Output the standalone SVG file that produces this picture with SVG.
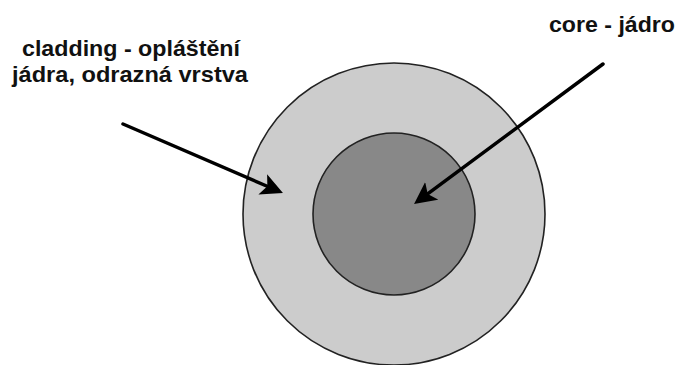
<svg xmlns="http://www.w3.org/2000/svg" width="682" height="365" viewBox="0 0 682 365">
<style>
.lbl{font-family:"Liberation Sans",Arial,sans-serif;font-weight:bold;font-size:22px;fill:#111;text-anchor:middle}
.conn{stroke:#000;stroke-width:3.5;fill:none;stroke-linecap:round}
</style>
<defs>
<marker id="ah" markerUnits="userSpaceOnUse" markerWidth="24" markerHeight="24" refX="8" refY="11" orient="auto">
<path d="M0,0 L22,11 L0,22 L5,11 Z" fill="#000"/>
</marker>
</defs>
<rect width="682" height="365" fill="#fff"/>
<g id="cladding">
<circle cx="394" cy="214" r="151" fill="#cccccc" stroke="#222" stroke-width="1.6"/>
</g>
<g id="core">
<circle cx="394" cy="214" r="81" fill="#888888" stroke="#222" stroke-width="1.6"/>
</g>
<g id="label-cladding">
<text class="lbl" x="131" y="56" textLength="218" lengthAdjust="spacingAndGlyphs">cladding - opláštění</text>
<text class="lbl" x="130" y="82" textLength="236" lengthAdjust="spacingAndGlyphs">jádra, odrazná vrstva</text>
</g>
<g id="label-core">
<text class="lbl" x="612" y="32" textLength="126" lengthAdjust="spacingAndGlyphs">core - jádro</text>
</g>
<g id="connectors">
<line class="conn" x1="123" y1="124" x2="270.1" y2="187.5" marker-end="url(#ah)"/>
<line class="conn" x1="603" y1="64" x2="425.3" y2="195.7" marker-end="url(#ah)"/>
</g>
</svg>
